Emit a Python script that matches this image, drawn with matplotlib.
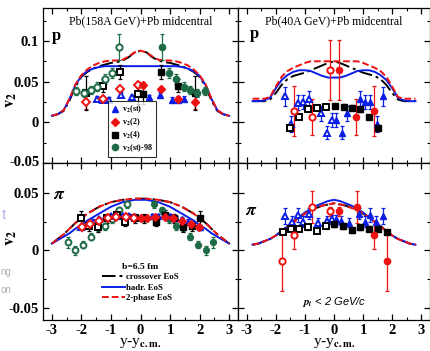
import numpy as np
import matplotlib
matplotlib.use('Agg')
import matplotlib.pyplot as plt

plt.rcParams['font.family'] = ['Liberation Serif', 'DejaVu Serif']
plt.rcParams['font.weight'] = 'bold'
plt.rcParams['mathtext.fontset'] = 'stix'
plt.rcParams['axes.unicode_minus'] = False

# ---------------- data: Pb(158A GeV)+Pb, protons ----------------
p158_st_x = [-1.47, -1.27, -1.05, -0.66, -0.28, 0.28, 0.66, 1.05, 1.27, 1.47]
p158_st_y = [0.029, 0.028, 0.028, 0.034, 0.031, 0.031, 0.034, 0.028, 0.028, 0.029]
p158_st_e = [0.003, 0.003, 0.003, 0.003, 0.003, 0.003, 0.003, 0.003, 0.003, 0.003]

p158_2_x = [-1.86, -1.28, -0.68, -0.08, 0.08, 0.68, 1.28, 1.86]
p158_2_y = [0.025, 0.029, 0.041, 0.046, 0.046, 0.041, 0.029, 0.025]
p158_2_e = [0.009, 0.003, 0.003, 0.004, 0.004, 0.003, 0.003, 0.009]

p158_4_x = [-1.86, -1.28, -0.68, -0.1, 0.1, 0.68, 1.28, 1.86]
p158_4_y = [0.036, 0.045, 0.062, 0.035, 0.035, 0.062, 0.045, 0.036]
p158_4_e = [0.021, 0.008, 0.009, 0.013, 0.013, 0.009, 0.008, 0.021]

p158_98_x = [-2.18, -1.92, -1.69, -1.47, -1.21, -0.96, -0.73, 0.73, 0.96, 1.21, 1.47, 1.69, 1.92, 2.18]
p158_98_y = [0.039, 0.036, 0.040, 0.044, 0.053, 0.061, 0.093, 0.093, 0.061, 0.053, 0.044, 0.040, 0.036, 0.039]
p158_98_e = [0.005, 0.005, 0.005, 0.005, 0.006, 0.006, 0.016, 0.016, 0.006, 0.006, 0.005, 0.005, 0.005, 0.005]

c158p_x = [-3.0, -2.8, -2.6, -2.4, -2.2, -2.0, -1.8, -1.6, -1.4, -1.2, -1.0, -0.8, -0.6, -0.4, -0.2, 0.0,
           0.2, 0.4, 0.6, 0.8, 1.0, 1.2, 1.4, 1.6, 1.8, 2.0, 2.2, 2.4, 2.6, 2.8, 3.0]
c158p_cross = [0.008, 0.010, 0.014, 0.027, 0.044, 0.056, 0.062, 0.066, 0.069, 0.071, 0.073, 0.074, 0.076, 0.080, 0.086, 0.088,
               0.086, 0.080, 0.076, 0.074, 0.073, 0.071, 0.069, 0.066, 0.062, 0.056, 0.044, 0.027, 0.014, 0.010, 0.008]
c158p_hadr = [0.008, 0.010, 0.015, 0.029, 0.046, 0.057, 0.063, 0.066, 0.068, 0.069, 0.069, 0.069, 0.069, 0.069, 0.069, 0.069,
              0.069, 0.069, 0.069, 0.069, 0.069, 0.069, 0.068, 0.066, 0.063, 0.057, 0.046, 0.029, 0.015, 0.010, 0.008]
c158p_2ph = [0.008, 0.010, 0.015, 0.029, 0.047, 0.058, 0.065, 0.070, 0.073, 0.075, 0.076, 0.076, 0.077, 0.081, 0.086, 0.088,
             0.086, 0.081, 0.077, 0.076, 0.076, 0.075, 0.073, 0.070, 0.065, 0.058, 0.047, 0.029, 0.015, 0.010, 0.008]

# ---------------- data: Pb(40A GeV)+Pb, protons ----------------
p40_st_x = [-1.67, -1.48, -1.25, -1.06, -0.85, -0.43, -0.23, -0.06, 0.06, 0.26, 0.45, 0.88, 1.06, 1.25, 1.48, 1.67]
p40_st_y = [0.032, -0.002, 0.024, 0.025, 0.029, 0.011, -0.013, 0.003, 0.003, -0.013, 0.011, 0.029, 0.025, 0.025, -0.002, 0.032]
p40_st_e = [0.012, 0.010, 0.009, 0.009, 0.010, 0.009, 0.008, 0.009, 0.009, 0.008, 0.009, 0.010, 0.009, 0.009, 0.010, 0.012]

p40_2_x = [-1.37, -0.74, -0.15, 0.17, 0.77, 1.39]
p40_2_y = [0.014, 0.0065, 0.064, 0.064, 0.0065, 0.014]
p40_2_e = [0.031, 0.022, 0.037, 0.037, 0.022, 0.031]

p40_4_x = [-1.5, -1.19, -0.89, -0.59, -0.26, 0.02, 0.34, 0.62, 0.91, 1.22, 1.52]
p40_4_y = [-0.0065, 0.0065, 0.016, 0.018, 0.019, 0.020, 0.019, 0.018, 0.016, 0.0065, -0.007]
p40_4_e = [0.004, 0.003, 0.003, 0.003, 0.003, 0.003, 0.003, 0.003, 0.003, 0.003, 0.004]

c40p_x = [-2.8, -2.6, -2.4, -2.2, -2.0, -1.8, -1.6, -1.4, -1.2, -1.0, -0.8, -0.6, -0.4, -0.2, 0.0,
          0.2, 0.4, 0.6, 0.8, 1.0, 1.2, 1.4, 1.6, 1.8, 2.0, 2.2, 2.4, 2.6, 2.8]
c40p_cross = [0.026, 0.026, 0.026, 0.028, 0.036, 0.046, 0.053, 0.057, 0.059, 0.061, 0.064, 0.067, 0.070, 0.073, 0.075,
              0.073, 0.070, 0.067, 0.064, 0.061, 0.059, 0.057, 0.053, 0.046, 0.036, 0.028, 0.026, 0.026, 0.026]
c40p_hadr = [0.026, 0.026, 0.027, 0.030, 0.042, 0.052, 0.058, 0.062, 0.064, 0.064, 0.063, 0.060, 0.057, 0.055, 0.055,
             0.055, 0.057, 0.060, 0.063, 0.064, 0.064, 0.062, 0.058, 0.052, 0.042, 0.030, 0.027, 0.026, 0.026]
c40p_2ph = [0.029, 0.029, 0.029, 0.031, 0.044, 0.056, 0.063, 0.067, 0.070, 0.073, 0.075, 0.075, 0.075, 0.075, 0.075,
            0.075, 0.075, 0.075, 0.075, 0.073, 0.070, 0.067, 0.063, 0.056, 0.044, 0.031, 0.029, 0.029, 0.029]

# ---------------- data: Pb(158A GeV)+Pb, pions ----------------
pi158_st_x = [-2.0, -1.8, -1.6, -1.4, -1.2, -1.0, -0.8, -0.6, -0.4, -0.2, 0.0, 0.2, 0.4, 0.6, 0.8, 1.0, 1.2, 1.4, 1.6, 1.8, 2.0]
pi158_st_y = [0.020, 0.022, 0.025, 0.027, 0.028, 0.030, 0.031, 0.030, 0.030, 0.029, 0.029, 0.029, 0.030, 0.030, 0.031, 0.030,
              0.028, 0.027, 0.025, 0.022, 0.020]
pi158_st_e = [0.002] * 21

pi158_2_x = [-1.98, -1.72, -1.41, -1.1, -0.82, -0.5, -0.22, 0.0, 0.22, 0.5, 0.82, 1.1, 1.41, 1.72, 1.98]
pi158_2_y = [0.020, 0.023, 0.026, 0.028, 0.029, 0.029, 0.028, 0.028, 0.028, 0.029, 0.029, 0.028, 0.026, 0.023, 0.020]
pi158_2_e = [0.002] * 15

pi158_4_x = [-2.03, -1.73, -1.43, -1.13, -0.8, -0.53, -0.2, 0.12, 0.53, 0.82, 1.13, 1.43, 1.73, 2.03]
pi158_4_y = [0.028, 0.021, 0.020, 0.028, 0.031, 0.025, 0.028, 0.028, 0.025, 0.031, 0.028, 0.020, 0.021, 0.028]
pi158_4_e = [0.006, 0.004, 0.004, 0.004, 0.004, 0.004, 0.004, 0.004, 0.004, 0.004, 0.004, 0.004, 0.004, 0.006]

pi158_98_x = [-2.45, -2.2, -1.95, -1.69, -1.45, -1.21, -0.96, -0.73, -0.45, 0.45, 0.73, 0.96, 1.21, 1.45, 1.69, 1.95, 2.2, 2.45]
pi158_98_y = [0.007, 0.0, 0.005, 0.012, 0.020, 0.021, 0.027, 0.035, 0.040, 0.040, 0.035, 0.027, 0.021, 0.020, 0.012, 0.005, 0.0, 0.007]
pi158_98_e = [0.005, 0.004, 0.003, 0.003, 0.003, 0.003, 0.003, 0.003, 0.003, 0.003, 0.003, 0.003, 0.003, 0.003, 0.003, 0.003, 0.004, 0.005]

c158pi_x = c158p_x
c158pi_cross = [0.006, 0.010, 0.014, 0.019, 0.024, 0.028, 0.032, 0.035, 0.038, 0.040, 0.042, 0.043, 0.044, 0.0445, 0.045, 0.045,
                0.045, 0.0445, 0.044, 0.043, 0.042, 0.040, 0.038, 0.035, 0.032, 0.028, 0.024, 0.019, 0.014, 0.010, 0.006]
c158pi_hadr = [0.006, 0.009, 0.012, 0.015, 0.019, 0.022, 0.026, 0.029, 0.032, 0.035, 0.038, 0.040, 0.042, 0.043, 0.044, 0.044,
               0.044, 0.043, 0.042, 0.040, 0.038, 0.035, 0.032, 0.029, 0.026, 0.022, 0.019, 0.015, 0.012, 0.009, 0.006]
c158pi_2ph = c158pi_cross

# ---------------- data: Pb(40A GeV)+Pb, pions ----------------
pi40_st_x = [-1.67, -1.45, -1.25, -1.05, -0.85, -0.55, -0.25, -0.06, 0.06, 0.25, 0.5, 0.85, 1.05, 1.25, 1.45, 1.67]
pi40_st_y = [0.030, 0.025, 0.031, 0.025, 0.032, 0.024, 0.026, 0.027, 0.027, 0.026, 0.024, 0.032, 0.025, 0.031, 0.025, 0.030]
pi40_st_e = [0.007, 0.005, 0.006, 0.005, 0.005, 0.004, 0.004, 0.004, 0.004, 0.004, 0.004, 0.005, 0.005, 0.006, 0.005, 0.007]

pi40_2_x = [-1.78, -1.37, -0.76, -0.15, 0.17, 0.78, 1.39, 1.82]
pi40_2_y = [-0.009, 0.0137, 0.038, 0.034, 0.034, 0.038, 0.0137, -0.009]
pi40_2_e = [0.026, 0.012, 0.014, 0.004, 0.004, 0.014, 0.012, 0.026]

pi40_4_x = [-1.76, -1.48, -1.19, -0.89, -0.59, -0.28, 0.0, 0.31, 0.62, 0.91, 1.22, 1.52, 1.82]
pi40_4_y = [0.016, 0.019, 0.019, 0.020, 0.017, 0.021, 0.0226, 0.021, 0.0174, 0.020, 0.019, 0.019, 0.016]
pi40_4_e = [0.002] * 13

c40pi_x = c40p_x
c40pi_cross = [0.005, 0.006, 0.008, 0.010, 0.013, 0.017, 0.021, 0.025, 0.029, 0.032, 0.035, 0.037, 0.039, 0.040, 0.041,
               0.040, 0.039, 0.037, 0.035, 0.032, 0.029, 0.025, 0.021, 0.017, 0.013, 0.010, 0.008, 0.006, 0.005]
c40pi_hadr = [0.005, 0.006, 0.008, 0.010, 0.013, 0.017, 0.021, 0.025, 0.029, 0.033, 0.036, 0.039, 0.041, 0.043, 0.044,
              0.043, 0.041, 0.039, 0.036, 0.033, 0.029, 0.025, 0.021, 0.017, 0.013, 0.010, 0.008, 0.006, 0.005]
c40pi_2ph = c40pi_cross

BLUE = '#0a1ee6'
RED = '#ee1111'
BLACK = '#000000'
GREEN = '#1e6b46'
DASHDOT = (0, (7, 2, 1.5, 2))


def pts(ax, x, y, e, color, marker, ms, label=None):
    x = np.asarray(x)
    y = np.asarray(y)
    e = np.asarray(e)
    ax.errorbar(x, y, yerr=e, fmt='none', ecolor=color, elinewidth=0.9, capsize=1.5, capthick=0.9, zorder=3)
    left = x < 0
    ax.plot(x[left], y[left], ls='none', marker=marker, ms=ms, mfc='white', mec=color, mew=1.4, zorder=4)
    h, = ax.plot(x[~left], y[~left], ls='none', marker=marker, ms=ms, color=color, zorder=4, label=label)
    return h


def curves(ax, x, cross, hadr, twoph):
    a, = ax.plot(x, cross, color=BLACK, lw=1.4, ls=DASHDOT, zorder=2)
    b, = ax.plot(x, hadr, color=BLUE, lw=1.4, zorder=2)
    c, = ax.plot(x, twoph, color=RED, lw=1.4, ls=(0, (3.5, 1.5)), zorder=2)
    return a, b, c


fig = plt.figure(figsize=(4.3, 3.51), dpi=100)
L, M, R = 43 / 430, 238 / 430, 1.0
T, C, B = 1 - 8 / 351, 1 - 163 / 351, 1 - 320 / 351
ax1 = fig.add_axes([L, C, M - L, T - C])
ax2 = fig.add_axes([M, C, R - M, T - C])
ax3 = fig.add_axes([L, B, M - L, C - B])
ax4 = fig.add_axes([M, B, R - M, C - B])

for ax in (ax1, ax2, ax3, ax4):
    ax.set_xlim(-3.3, 3.3)
    ax.set_xticks([-3, -2, -1, 0, 1, 2, 3])
    ax.set_xticks(np.arange(-3, 3.01, 0.5), minor=True)
    ax.tick_params(which='both', direction='in', top=True, right=True, labelsize=10.5, pad=3)
    ax.tick_params(which='major', length=4, width=0.9)
    ax.tick_params(which='minor', length=2.5, width=0.8)
    for s in ax.spines.values():
        s.set_linewidth(0.9)

for ax in (ax1, ax2):
    ax.set_ylim(-0.05, 0.1405)
    ax.set_yticks([-0.05, 0, 0.05, 0.1])
    ax.set_yticks([-0.025, 0.025, 0.075, 0.125], minor=True)
    ax.tick_params(labelbottom=False)
for ax in (ax3, ax4):
    ax.set_ylim(-0.0604, 0.076)
    ax.set_yticks([-0.05, 0, 0.05])
    ax.set_yticks([-0.025, 0.025], minor=True)
    ax.set_xticklabels(['-3', '-2', '-1', '0', '1', '2', '3'])
    ax.set_xlabel(r'y-y$_\mathbf{c.m.}$', fontsize=11, labelpad=-1)
for ax in (ax2, ax4):
    ax.tick_params(labelleft=False)
ax1.set_yticklabels(['', '0', '0.05', '0.1'])
ax3.set_yticklabels(['-0.05', '0', '0.05'])
fig.text(L - 0.008, C, '-0.05', ha='right', va='center', fontsize=10.5)
fig.text(11 / 430, 1 - 100 / 351, r'$\mathbf{v_2}$', fontsize=12, rotation=90, ha='center', va='center')
fig.text(11 / 430, 1 - 238 / 351, r'$\mathbf{v_2}$', fontsize=12, rotation=90, ha='center', va='center')

# panel 1: 158A protons
curves(ax1, c158p_x, c158p_cross, c158p_hadr, c158p_2ph)
h1 = pts(ax1, p158_st_x, p158_st_y, p158_st_e, BLUE, '^', 4.5, r'v$_2$(st)')
h2 = pts(ax1, p158_2_x, p158_2_y, p158_2_e, RED, 'D', 3.8, r'v$_2$(2)')
h3 = pts(ax1, p158_4_x, p158_4_y, p158_4_e, BLACK, 's', 4.5, r'v$_2$(4)')
h4 = pts(ax1, p158_98_x, p158_98_y, p158_98_e, GREEN, 'o', 4.5, r'v$_2$(st)-98')
ax1.set_title('Pb(158A GeV)+Pb midcentral', fontsize=8.5, pad=-12, y=1)
ax1.text(-3.0, 0.106, 'p', fontsize=12, va='center')
leg = ax1.legend(handles=[h1, h2, h3, h4], loc='lower left', bbox_to_anchor=(0.335, 0.04),
                 fontsize=5.8, frameon=True, fancybox=False, edgecolor='black', handlelength=1.0,
                 handletextpad=0.4, labelspacing=0.15, borderpad=0.35, borderaxespad=0)
leg.get_frame().set_linewidth(0.8)

# panel 2: 40A protons
curves(ax2, c40p_x, c40p_cross, c40p_hadr, c40p_2ph)
pts(ax2, p40_st_x, p40_st_y, p40_st_e, BLUE, '^', 4.5)
pts(ax2, p40_4_x, p40_4_y, p40_4_e, BLACK, 's', 4.5)
pts(ax2, p40_2_x, p40_2_y, p40_2_e, RED, 'o', 4.5)
ax2.set_title('Pb(40A GeV)+Pb midcentral', fontsize=8.5, pad=-12, y=1)
ax2.text(-2.9, 0.108, 'p', fontsize=12, va='center')

# panel 3: 158A pions
a, b, c = curves(ax3, c158pi_x, c158pi_cross, c158pi_hadr, c158pi_2ph)
pts(ax3, pi158_98_x, pi158_98_y, pi158_98_e, GREEN, 'o', 4.2)
pts(ax3, pi158_st_x, pi158_st_y, pi158_st_e, BLUE, '^', 4.2)
pts(ax3, pi158_4_x, pi158_4_y, pi158_4_e, BLACK, 's', 4.5)
pts(ax3, pi158_2_x, pi158_2_y, pi158_2_e, RED, 'D', 3.6)
ax3.text(-2.95, 0.049, r'$\pi$', fontsize=13, va='center')
leg2 = ax3.legend([a, b, c], ['crossover EoS', 'hadr. EoS', '2-phase EoS'], title='b=6.5 fm',
                  loc='lower left', bbox_to_anchor=(0.27, 0.075), fontsize=6.3, title_fontsize=6.8,
                  frameon=False, handlelength=2.6, handletextpad=0.2, labelspacing=0.25, borderpad=0.2)

# panel 4: 40A pions
curves(ax4, c40pi_x, c40pi_cross, c40pi_hadr, c40pi_2ph)
pts(ax4, pi40_st_x, pi40_st_y, pi40_st_e, BLUE, '^', 4.5)
pts(ax4, pi40_4_x, pi40_4_y, pi40_4_e, BLACK, 's', 4.5)
pts(ax4, pi40_2_x, pi40_2_y, pi40_2_e, RED, 'o', 4.5)
ax4.text(-3.05, 0.035, r'$\pi$', fontsize=13, va='center')
ax4.text(0.0, -0.045, r'$p_t$ < 2 GeV/c', fontsize=8, ha='center', va='center',
         family=['Liberation Sans', 'DejaVu Sans'], style='italic', weight='normal')

# faint fragments at the left border of the crop
fig.text(0.004, 1 - 215 / 351, 't', color='#b8b4f0', fontsize=11, family=['Liberation Sans', 'DejaVu Sans'],
         weight='normal', va='center')
fig.text(0.002, 1 - 272 / 351, 'ng', color='#b0b0b0', fontsize=7, family=['Liberation Sans', 'DejaVu Sans'],
         weight='normal', va='center')
fig.text(0.002, 1 - 290 / 351, 'on', color='#b0b0b0', fontsize=7, family=['Liberation Sans', 'DejaVu Sans'],
         weight='normal', va='center')

fig.savefig('out.png', dpi=100)
